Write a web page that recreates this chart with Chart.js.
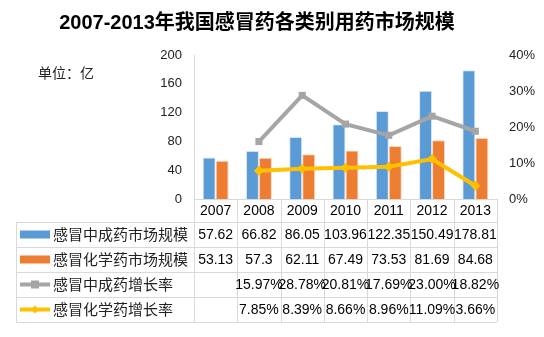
<!DOCTYPE html>
<html>
<head>
<meta charset="utf-8">
<script src="https://cdn.jsdelivr.net/npm/chart.js@4"></script>
<style>
  html, body { margin: 0; padding: 0; background: #fff; }
  #wrap { position: relative; width: 544px; height: 337px; }
</style>
</head>
<body>
<div id="wrap"><canvas id="grafico" width="544" height="337"></canvas></div>
<script>
const anos = ["2007", "2008", "2009", "2010", "2011", "2012", "2013"];
const chineseMarket = [57.62, 66.82, 86.05, 103.96, 122.35, 150.49, 178.81];
const chemicalMarket = [53.13, 57.3, 62.11, 67.49, 73.53, 81.69, 84.68];
const chineseGrowth = [null, 15.97, 28.78, 20.81, 17.69, 23.0, 18.82];
const chemicalGrowth = [null, 7.85, 8.39, 8.66, 8.96, 11.09, 3.66];
const chineseGrowthText = ["", "15.97%", "28.78%", "20.81%", "17.69%", "23.00%", "18.82%"];
const chemicalGrowthText = ["", "7.85%", "8.39%", "8.66%", "8.96%", "11.09%", "3.66%"];
const marketText1 = ["57.62", "66.82", "86.05", "103.96", "122.35", "150.49", "178.81"];
const marketText2 = ["53.13", "57.3", "62.11", "67.49", "73.53", "81.69", "84.68"];

const titulo = "2007-2013年我国感冒药各类别用药市场规模";
const unidade = "单位：亿";
const nomes = ["感冒中成药市场规模", "感冒化学药市场规模", "感冒中成药增长率", "感冒化学药增长率"];

const cores = { azul: "#5b9bd5", laranja: "#ed7d31", cinza: "#a5a5a5", amarelo: "#ffc000" };
const fonteCJK = "'Liberation Sans', 'Noto Sans CJK SC', sans-serif";

// desenha titulo, unidade e a tabela de dados embaixo do grafico
const tabelaPlugin = {
  id: "tabela",
  afterDraw(chart) {
    const ctx = chart.ctx;
    const x = chart.scales.x;
    const area = chart.chartArea;
    const colW = (area.right - area.left) / anos.length;
    const tabLeft = 16;
    const top = area.bottom;
    const linhas = [top, top + 23, top + 48, top + 73, top + 98, top + 123];

    ctx.save();
    // titulo
    ctx.fillStyle = "#000";
    ctx.font = "bold 20px " + fonteCJK;
    ctx.textAlign = "center";
    ctx.textBaseline = "middle";
    ctx.fillText(titulo, 257, 23);

    ctx.font = "14px " + fonteCJK;
    ctx.textAlign = "left";
    ctx.fillStyle = "#222";
    ctx.fillText(unidade, 38, 74);

    // bordas
    ctx.strokeStyle = "#d9d9d9";
    ctx.lineWidth = 1;
    ctx.beginPath();
    ctx.moveTo(area.left, top + 0.5);
    ctx.lineTo(area.right, top + 0.5);
    for (let r = 1; r < linhas.length; r++) {
      ctx.moveTo(tabLeft, linhas[r] + 0.5);
      ctx.lineTo(area.right, linhas[r] + 0.5);
    }
    ctx.moveTo(tabLeft + 0.5, linhas[1]);
    ctx.lineTo(tabLeft + 0.5, linhas[5]);
    for (let i = 0; i <= anos.length; i++) {
      const px = Math.round(area.left + i * colW) + 0.5;
      ctx.moveTo(px, top);
      ctx.lineTo(px, linhas[5]);
    }
    ctx.stroke();

    // textos
    const linhasTexto = [anos, marketText1, marketText2, chineseGrowthText, chemicalGrowthText];
    ctx.fillStyle = "#000";
    ctx.textAlign = "center";
    ctx.font = "14px 'Liberation Sans', sans-serif";
    linhasTexto.forEach((vals, r) => {
      const cy = (linhas[r] + linhas[r + 1]) / 2 + 1;
      vals.forEach((v, i) => {
        ctx.fillText(v, x.getPixelForValue(i), cy);
      });
    });

    // legenda dentro da tabela
    ctx.textAlign = "left";
    ctx.font = "15px " + fonteCJK;
    nomes.forEach((nome, r) => {
      const cy = (linhas[r + 1] + linhas[r + 2]) / 2;
      if (r === 0 || r === 1) {
        ctx.fillStyle = r === 0 ? cores.azul : cores.laranja;
        ctx.fillRect(20, cy - 4, 30, 8);
      } else {
        const cor = r === 2 ? cores.cinza : cores.amarelo;
        ctx.strokeStyle = cor;
        ctx.fillStyle = cor;
        ctx.lineWidth = 4;
        ctx.beginPath();
        ctx.moveTo(20, cy);
        ctx.lineTo(50, cy);
        ctx.stroke();
        if (r === 2) {
          ctx.fillRect(31, cy - 4, 8, 8);
        } else {
          ctx.beginPath();
          ctx.moveTo(35, cy - 4);
          ctx.lineTo(39, cy);
          ctx.lineTo(35, cy + 4);
          ctx.lineTo(31, cy);
          ctx.closePath();
          ctx.fill();
        }
      }
      ctx.fillStyle = "#222";
      ctx.fillText(nome, 53, cy + 1);
    });
    ctx.restore();
  },
};

new Chart(document.getElementById("grafico"), {
  data: {
    labels: anos,
    datasets: [
      {
        type: "line",
        label: nomes[2],
        data: chineseGrowth,
        yAxisID: "y1",
        borderColor: cores.cinza,
        backgroundColor: cores.cinza,
        borderWidth: 4,
        pointStyle: "rect",
        pointRadius: 5,
        pointBorderWidth: 0,
        order: 0,
      },
      {
        type: "line",
        label: nomes[3],
        data: chemicalGrowth,
        yAxisID: "y1",
        borderColor: cores.amarelo,
        backgroundColor: cores.amarelo,
        borderWidth: 4,
        pointStyle: "rectRot",
        pointRadius: 5,
        pointBorderWidth: 0,
        order: 0,
      },
      {
        type: "bar",
        label: nomes[0],
        data: chineseMarket,
        yAxisID: "y",
        backgroundColor: cores.azul,
        borderColor: "#dce6f0",
        borderWidth: 1,
        categoryPercentage: 0.6,
        barPercentage: 1,
        order: 1,
      },
      {
        type: "bar",
        label: nomes[1],
        data: chemicalMarket,
        yAxisID: "y",
        backgroundColor: cores.laranja,
        borderColor: "#f4d8c6",
        borderWidth: 1,
        categoryPercentage: 0.6,
        barPercentage: 1,
        order: 1,
      },
    ],
  },
  options: {
    responsive: false,
    animation: false,
    layout: { padding: { top: 55, bottom: 138, left: 0, right: 0 } },
    plugins: {
      legend: { display: false },
      title: { display: false },
      tooltip: { enabled: false },
    },
    scales: {
      x: { display: false },
      y: {
        position: "left",
        min: 0,
        max: 200,
        ticks: {
          stepSize: 40,
          padding: 12,
          color: "#222",
          font: { size: 13, family: "'Liberation Sans', sans-serif" },
        },
        grid: { display: false, drawTicks: false },
        border: { display: true, color: "#d9d9d9" },
        afterFit(scale) {
          scale.width = 194;
        },
      },
      y1: {
        position: "right",
        min: 0,
        max: 40,
        ticks: {
          stepSize: 10,
          padding: 12,
          color: "#222",
          font: { size: 13, family: "'Liberation Sans', sans-serif" },
          callback: (v) => v + "%",
        },
        grid: { display: false, drawTicks: false },
        border: { display: false },
        afterFit(scale) {
          scale.width = 47;
        },
      },
    },
  },
  plugins: [tabelaPlugin],
});
</script>
</body>
</html>
